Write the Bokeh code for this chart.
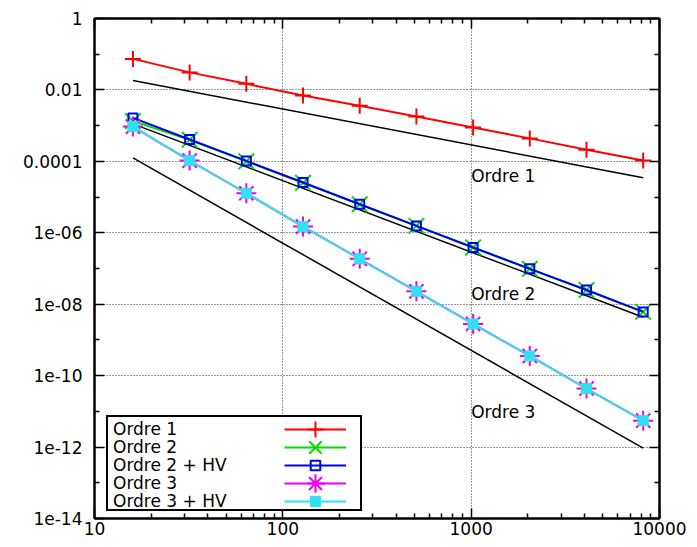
from bokeh.plotting import figure
from bokeh.models import Range1d, FixedTicker, LogAxis, Legend, LegendItem
from bokeh.core.properties import value
from bokeh.embed import file_html
from bokeh.resources import INLINE

# ---------------- data ----------------
n_points = [16, 32, 64, 128, 256, 512, 1024, 2048, 4096, 8192]
err_ordre1 = [0.074, 0.031, 0.0148, 0.0070, 0.0036, 0.0018, 0.00089, 0.00044, 0.00021, 0.000105]
err_ordre2 = [1.35e-3, 4.0e-4, 1.0e-4, 2.5e-5, 6.3e-6, 1.56e-6, 3.9e-7, 9.8e-8, 2.5e-8, 6.1e-9]
err_ordre2_hv = [1.65e-3, 4.1e-4, 1.03e-4, 2.55e-5, 6.3e-6, 1.56e-6, 3.88e-7, 9.8e-8, 2.5e-8, 6.1e-9]
err_ordre3 = [9.4e-4, 1.05e-4, 1.28e-5, 1.49e-6, 1.86e-7, 2.29e-8, 2.8e-9, 3.55e-10, 4.35e-11, 5.5e-12]
err_ordre3_hv = [9.4e-4, 1.05e-4, 1.28e-5, 1.49e-6, 1.86e-7, 2.29e-8, 2.8e-9, 3.55e-10, 4.35e-11, 5.5e-12]

ref_x = [16, 8192]
ref_ordre1 = [0.0183, 3.5e-5]
ref_ordre2 = [1.12e-3, 4.3e-9]
ref_ordre3 = [1.25e-4, 9.3e-13]

ref_label_x = [1000, 1000, 1000]
ref_label_y = [3.8e-5, 1.95e-8, 9.4e-12]
ref_label_text = ["Ordre 1", "Ordre 2", "Ordre 3"]

series_names = ["Ordre 1", "Ordre 2", "Ordre 2 + HV", "Ordre 3", "Ordre 3 + HV"]

x_tick_values = [10, 100, 1000, 10000]
x_tick_labels = ["10", "100", "1000", "10000"]
x_minor_values = [20, 30, 40, 50, 60, 70, 80, 90,
                  200, 300, 400, 500, 600, 700, 800, 900,
                  2000, 3000, 4000, 5000, 6000, 7000, 8000, 9000]
y_tick_values = [1e-14, 1e-12, 1e-10, 1e-08, 1e-06, 1e-04, 1e-02, 1.0]
y_tick_labels = ["1e-14", "1e-12", "1e-10", "1e-08", "1e-06", "0.0001", "0.01", "1"]
y_minor_values = [1e-13, 1e-11, 1e-09, 1e-07, 1e-05, 1e-03, 1e-01]

# ---------------- figure ----------------
FONT = "DejaVu Sans"
FS = "17px"

p = figure(width=689, height=539, x_axis_type="log", y_axis_type="log",
           x_range=Range1d(10, 10000), y_range=Range1d(1e-14, 1),
           output_backend="svg", toolbar_location=None,
           min_border_left=94, min_border_right=30,
           min_border_top=18, min_border_bottom=21)
p.background_fill_color = "white"
p.border_fill_color = "white"
p.outline_line_color = "black"
p.outline_line_width = 2

xticker = FixedTicker(ticks=x_tick_values, minor_ticks=x_minor_values)
yticker = FixedTicker(ticks=y_tick_values, minor_ticks=y_minor_values)


def style_axis(ax, ticker):
    ax.ticker = ticker
    ax.axis_line_color = "black"
    ax.axis_line_width = 2
    ax.major_tick_in = 10
    ax.major_tick_out = 0
    ax.minor_tick_in = 5
    ax.minor_tick_out = 0
    ax.major_tick_line_color = "black"
    ax.minor_tick_line_color = "black"
    ax.major_tick_line_width = 1.5
    ax.minor_tick_line_width = 1.5
    ax.major_label_text_font = FONT
    ax.major_label_text_font_size = FS
    ax.major_label_text_color = "black"


xax = p.xaxis[0]
style_axis(xax, xticker)
xax.major_label_overrides = dict(zip(x_tick_values, x_tick_labels))
xax.major_label_standoff = 3

yax = p.yaxis[0]
style_axis(yax, yticker)
yax.major_label_overrides = dict(zip(y_tick_values, y_tick_labels))
yax.major_label_standoff = 12

top_ax = LogAxis()
style_axis(top_ax, xticker)
top_ax.major_label_overrides = {v: "" for v in x_tick_values}
top_ax.major_label_text_font_size = "0px"
top_ax.major_label_standoff = 0
p.add_layout(top_ax, "above")

right_ax = LogAxis()
style_axis(right_ax, yticker)
right_ax.major_label_overrides = {v: "" for v in y_tick_values}
right_ax.major_label_text_font_size = "0px"
right_ax.major_label_standoff = 0
p.add_layout(right_ax, "right")

for g, t in ((p.xgrid[0], xticker), (p.ygrid[0], yticker)):
    g.ticker = t
    g.grid_line_color = "#333333"
    g.grid_line_dash = "1 2"
    g.grid_line_width = 1

# reference slopes
for ry in (ref_ordre1, ref_ordre2, ref_ordre3):
    p.line(ref_x, ry, line_color="black", line_width=1.5)

p.text(x=ref_label_x, y=ref_label_y, text=ref_label_text,
       text_font=value(FONT), text_font_size=FS, text_color="black",
       text_align="left", text_baseline="middle")

# series
green, blue, magenta, cyan, red = "#00dd00", "#0000ee", "#ee00ee", "#33e0f0", "#ff0000"

l2 = p.line(n_points, err_ordre2, line_color=green, line_width=2)
s2 = p.scatter(n_points, err_ordre2, marker="x", size=22, line_color=green, line_width=2)
l2h = p.line(n_points, err_ordre2_hv, line_color=blue, line_width=2)
s2h = p.scatter(n_points, err_ordre2_hv, marker="square", size=9, line_color=blue,
                fill_color=None, line_width=2)
l3 = p.line(n_points, err_ordre3, line_color=magenta, line_width=2)
s3 = p.scatter(n_points, err_ordre3, marker="asterisk", size=20, line_color=magenta, line_width=2)
l3h = p.line(n_points, err_ordre3_hv, line_color=cyan, line_width=2)
s3h = p.scatter(n_points, err_ordre3_hv, marker="square", size=10, line_color=cyan,
                fill_color=cyan, line_width=1)
l1 = p.line(n_points, err_ordre1, line_color=red, line_width=2)
s1 = p.scatter(n_points, err_ordre1, marker="cross", size=16, line_color=red, line_width=2)

# legend frame (empty rows of 18 px)
box_legend = Legend(items=[LegendItem(label="", renderers=[]) for _ in series_names],
                    location=(12, 7), orientation="vertical",
                    padding=1, spacing=0, margin=0,
                    glyph_width=0, glyph_height=18, label_height=18,
                    label_width=244, label_standoff=6, label_text_font_size="1px",
                    border_line_color="black", border_line_width=2, border_line_alpha=1.0,
                    background_fill_color="white", background_fill_alpha=1.0)
p.add_layout(box_legend, "center")

sample_renderers = [[l1, s1], [l2, s2], [l2h, s2h], [l3, s3], [l3h, s3h]]
sample_heights = [40, 44, 24, 46, 26]
ROW_H = 24
for i, (name, rs, h) in enumerate(zip(series_names, sample_renderers, sample_heights)):
    center = 17 + (4 - i) * 18.1
    # label on the left
    lab = Legend(items=[LegendItem(label=name, renderers=[])],
                 location=(18, center - ROW_H / 2), padding=0, spacing=0, margin=0,
                 glyph_width=1, glyph_height=ROW_H, label_height=ROW_H, label_width=150,
                 label_standoff=0, label_text_font=FONT, label_text_font_size=FS,
                 label_text_color="black",
                 border_line_color=None, background_fill_alpha=0.0)
    p.add_layout(lab, "center")
    # sample on the right
    lg = Legend(items=[LegendItem(label="", renderers=rs)],
                location=(190, center - h / 2), padding=0, spacing=0, margin=0,
                glyph_width=62, glyph_height=h, label_height=0, label_width=0,
                label_standoff=0, label_text_font_size="1px",
                border_line_color=None, background_fill_alpha=0.0)
    p.add_layout(lg, "center")

open("out.html", "w").write(file_html(p, INLINE))
